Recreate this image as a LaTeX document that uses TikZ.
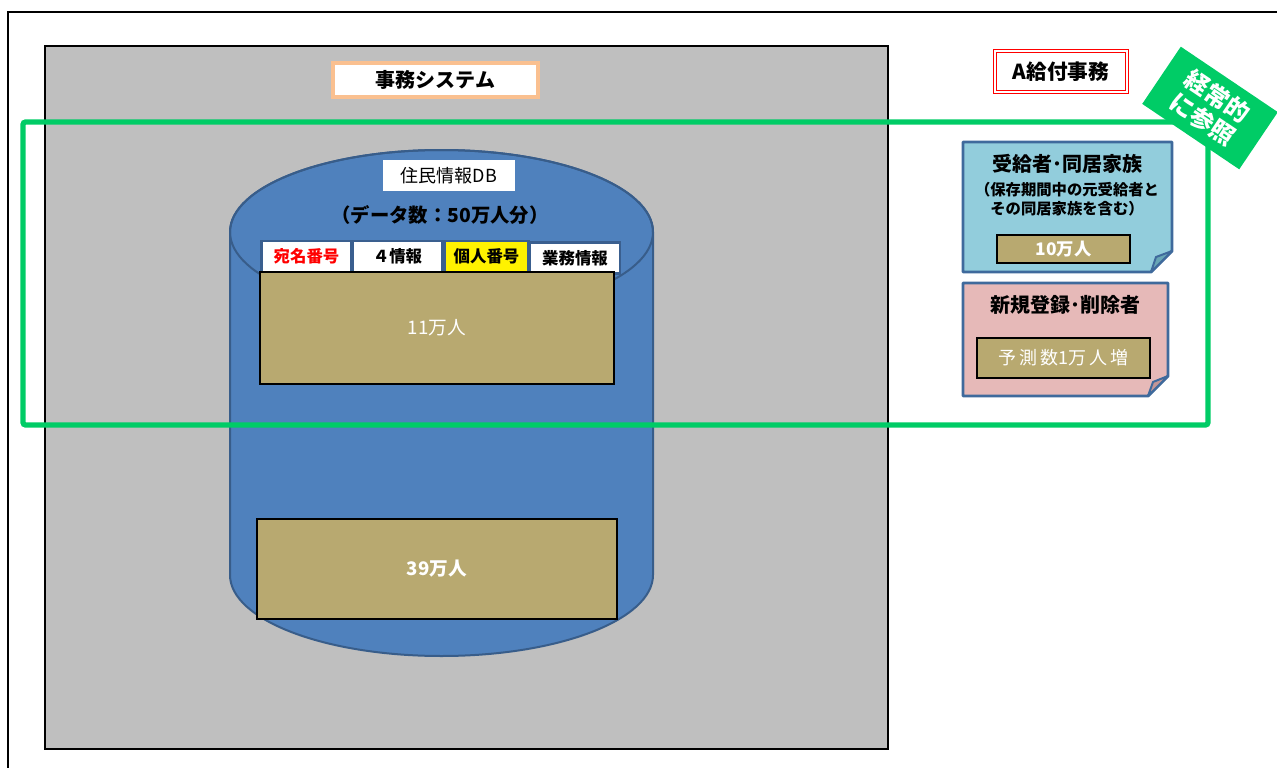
\documentclass[tikz,border=0pt]{standalone}
\usepackage{fontspec}
\setmainfont{Noto Sans CJK JP}
\usetikzlibrary{shadows}
\definecolor{grayfill}{HTML}{BFBFBF}
\definecolor{cylfill}{HTML}{4F81BD}
\definecolor{cylline}{HTML}{385D8A}
\definecolor{tan}{RGB}{184,169,112}
\definecolor{gbright}{RGB}{0,204,102}
\definecolor{noteblue}{HTML}{92CDDC}
\definecolor{notepink}{HTML}{E6B9B8}
\definecolor{noteline}{HTML}{3F6A9C}
\definecolor{foldblue}{RGB}{104,166,182}
\definecolor{foldpink}{RGB}{196,150,150}
\definecolor{orangeb}{HTML}{FAC090}
\definecolor{hdrline}{HTML}{3A5F8F}
\tikzset{
  box/.style={draw, inner sep=0pt, outer sep=0pt, font=\bfseries},
  tanbox/.style={draw=black, fill=tan, line width=1.2pt, inner sep=0pt, text=white},
  hdr/.style={draw=hdrline, fill=white, line width=2pt, inner sep=0pt, minimum height=31*0.75pt, font=\fontsize{12.3pt}{14pt}\selectfont\bfseries},
  note/.style={draw=noteline, line width=2.2pt, line join=round},
}
\begin{document}
\begin{tikzpicture}[x=0.75pt,y=-0.75pt]
\useasboundingbox (0,0) rectangle (1277,767);
\clip (0,0) rectangle (1277,767);
% outer frame
\draw[line width=1.5pt] (8,800) -- (8,12) -- (1300,12);
% gray system area
\node[draw=black, fill=grayfill, line width=1.5pt, inner sep=0pt, minimum width=843*0.75pt, minimum height=703*0.75pt] (sys) at (466.5,397.5) {};
% title
\node[draw=orangeb, fill=white, line width=2.5pt, inner sep=0pt, minimum width=205*0.75pt, minimum height=34*0.75pt,
      drop shadow={shadow xshift=1pt, shadow yshift=-1.5pt, opacity=0.35},
      font=\fontsize{15pt}{17pt}\selectfont\bfseries] (title) at (435.5,80) {事務システム};
% cylinder
\draw[fill=cylfill, draw=cylline, line width=1.5pt]
  (230,232) -- (230,575) arc[start angle=180, end angle=360, x radius=158.625pt, y radius=60.75pt]
  -- (653,232) arc[start angle=0, end angle=180, x radius=158.625pt, y radius=61.5pt] -- cycle;
\draw[draw=cylline, line width=1.5pt] (441.5,232) ellipse[x radius=158.625pt, y radius=61.5pt];
\node[fill=white, inner sep=0pt, minimum width=132*0.75pt, minimum height=31*0.75pt,
      font=\fontsize{13.5pt}{15pt}\selectfont] (db) at (449,175.5) {住民情報DB};
\node[inner sep=0pt, font=\fontsize{14.5pt}{16pt}\selectfont\bfseries] (count) at (440,215) {（データ数：50万人分）};
% header cells
\node[hdr, minimum width=90*0.75pt, text=red] (h1) at (306.5,256.5) {宛名番号};
\node[hdr, minimum width=89*0.75pt] (h2) at (397.5,256.5) {４情報};
\node[hdr, minimum width=84*0.75pt, fill=yellow] (h3) at (486.5,256.5) {個人番号};
\node[hdr, minimum width=90*0.75pt] (h4) at (575,258) {業務情報};
% data boxes
\node[tanbox, minimum width=354*0.75pt, minimum height=112*0.75pt, font=\fontsize{14pt}{16pt}\selectfont] (d11) at (437,328) {11万人};
\node[tanbox, minimum width=360*0.75pt, minimum height=100*0.75pt, font=\fontsize{14pt}{16pt}\selectfont\bfseries] (d39) at (437,569) {39万人};
% green frame
\draw[draw=gbright, line width=4pt, rounded corners=2pt] (23,122) rectangle (1208,425);
% A kyufu
\node[draw=red, double=white, double distance=1.2pt, line width=0.7pt, fill=white, inner sep=0pt,
      minimum width=132*0.75pt, minimum height=41*0.75pt, font=\fontsize{15.5pt}{17pt}\selectfont\bfseries] (ak) at (1061,71.5) {A給付事務};
% badge
\node[fill=gbright, text=white, inner sep=0pt, minimum width=117*0.75pt, minimum height=69*0.75pt, rotate=-34,
      align=center, font=\fontsize{18pt}{21pt}\selectfont\bfseries] (badge) at (1210,108) {経常的\\に参照};
% blue note
\draw[note, fill=noteblue] (963,142) -- (1172,142) -- (1172,251) -- (1151,272) -- (963,272) -- cycle;
\draw[note, line width=1.5pt, fill=foldblue] (1172,251) -- (1151,272) .. controls (1153,265) .. (1156,257) -- cycle;
\node[inner sep=0pt, font=\fontsize{15pt}{17pt}\selectfont\bfseries] (bt) at (1067,164) {受給者･同居家族};
\node[inner sep=0pt, align=center, font=\fontsize{11.5pt}{14.5pt}\selectfont\bfseries] (bs) at (1067,199) {（保存期間中の元受給者と\\その同居家族を含む）};
\node[tanbox, minimum width=133*0.75pt, minimum height=28*0.75pt, font=\fontsize{13pt}{15pt}\selectfont\bfseries] (d10) at (1063.5,249) {10万人};
% pink note
\draw[note, fill=notepink] (963,283) -- (1168,283) -- (1168,376) -- (1148,396) -- (963,396) -- cycle;
\draw[note, line width=1.5pt, fill=foldpink] (1168,376) -- (1148,396) .. controls (1150,389) .. (1153,382) -- cycle;
\node[inner sep=0pt, font=\fontsize{15pt}{17pt}\selectfont\bfseries] (pt) at (1065,305) {新規登録･削除者};
\node[tanbox, minimum width=173*0.75pt, minimum height=40*0.75pt, font=\fontsize{13.5pt}{15pt}\selectfont] (d1) at (1063.5,358) {予\,測\,数1万\,人\,増};
\end{tikzpicture}
\end{document}
